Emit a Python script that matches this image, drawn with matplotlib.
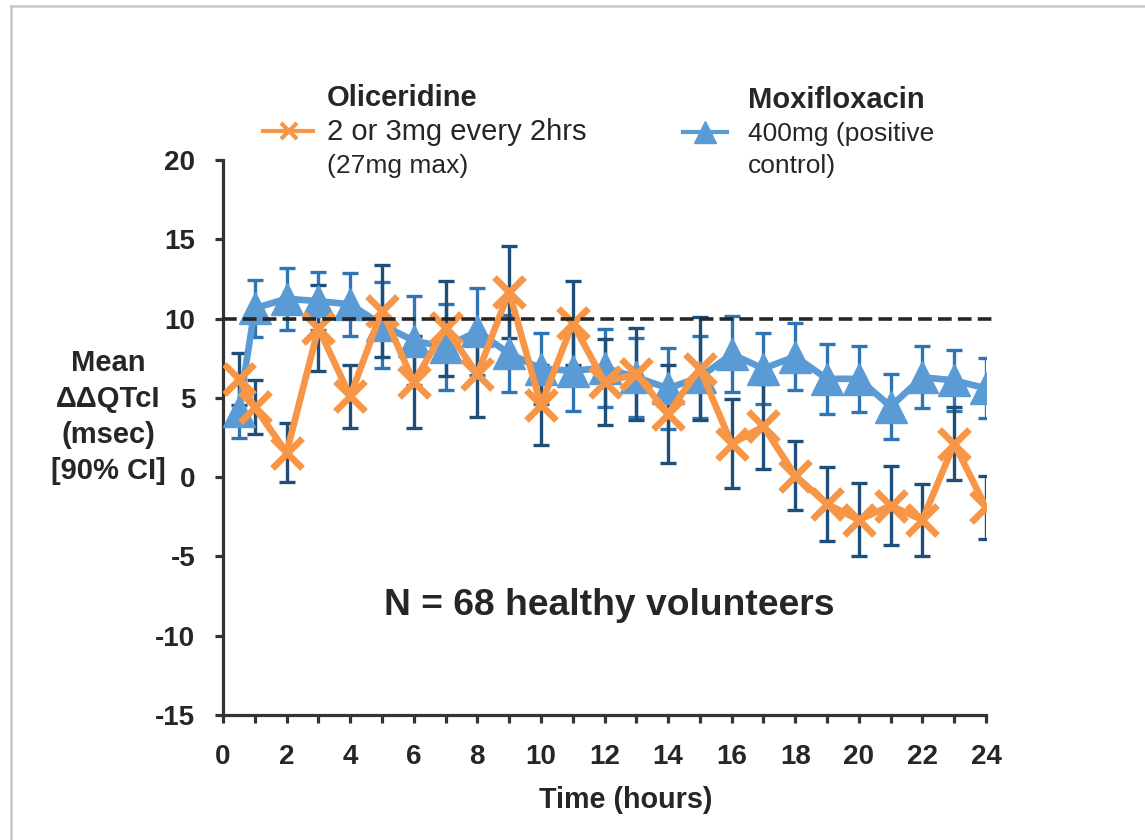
import matplotlib
matplotlib.use('Agg')
import matplotlib.pyplot as plt
from matplotlib.lines import Line2D

plt.rcParams['font.family'] = ['Liberation Sans', 'DejaVu Sans']
plt.rcParams['axes.unicode_minus'] = False

# hours after first dose
hours = [0.5, 1, 2, 3, 4, 5, 6, 7, 8, 9, 10, 11, 12, 13, 14, 15, 16, 17, 18, 19, 20, 21, 22, 23, 24]

# oliceridine: mean ddQTcI and half width of 90% CI (msec)
oli_mean = [6.2, 4.4, 1.55, 9.4, 5.1, 10.5, 6.0, 9.4, 6.5, 11.7, 4.55, 9.7, 6.0,
            6.5, 4.0, 6.85, 2.1, 3.2, 0.1, -1.7, -2.7, -1.8, -2.7, 2.1, -1.9]
oli_ci = [1.65, 1.7, 1.85, 2.7, 2.0, 2.9, 2.9, 3.0, 2.7, 2.9, 2.55, 2.65, 2.7,
          2.9, 3.1, 3.25, 2.8, 2.7, 2.2, 2.35, 2.3, 2.5, 2.25, 2.3, 2.0]

# moxifloxacin (positive control)
moxi_mean = [4.2, 10.65, 11.25, 11.1, 10.9, 9.6, 8.6, 8.2, 9.2, 7.8, 6.85, 6.7, 6.9,
             6.3, 5.6, 6.3, 7.75, 6.85, 7.6, 6.2, 6.2, 4.45, 6.3, 6.1, 5.6]
moxi_ci = [1.7, 1.8, 1.95, 1.85, 2.0, 2.7, 2.8, 2.7, 2.75, 2.4, 2.25, 2.5, 2.45,
           2.5, 2.55, 2.6, 2.4, 2.25, 2.1, 2.2, 2.1, 2.05, 1.95, 1.9, 1.9]

threshold = 10
x_ticks = list(range(0, 25, 2))
y_ticks = list(range(-15, 21, 5))

ORANGE = '#F79646'
BLUE = '#5B9BD5'
OLI_ERR = '#1F4E79'
MOXI_ERR = '#2E75B6'
TXT = '#262626'
W, H = 1145, 840


def fx(px):
    return px / W


def fy(py):
    return 1 - py / H


fig = plt.figure(figsize=(W / 100, H / 100), dpi=100)
ax = fig.add_axes([fx(223), fy(715), fx(986) - fx(223), fy(160) - fy(715)])

# error bars sit under both series
ax.errorbar(hours, moxi_mean, yerr=moxi_ci, fmt='none', ecolor=MOXI_ERR,
            elinewidth=2.4, capsize=5.5, capthick=2.4, zorder=2)
ax.errorbar(hours, oli_mean, yerr=oli_ci, fmt='none', ecolor=OLI_ERR,
            elinewidth=2.4, capsize=5.5, capthick=2.4, zorder=2)

ax.plot(hours, moxi_mean, color=BLUE, lw=4.8, marker='^', markersize=23,
        markerfacecolor=BLUE, markeredgecolor=BLUE, markeredgewidth=1, zorder=3)
ax.plot(hours, oli_mean, color=ORANGE, lw=4.8, marker='x', markersize=21,
        markeredgewidth=4.8, zorder=4)

ax.hlines(threshold, 0, 24.3, colors=TXT, lw=2.6, linestyles=(0, (3.8, 1.7)),
          clip_on=False, zorder=5)

ax.set_xlim(0, 24)
ax.set_ylim(-15, 20)
ax.set_xticks(x_ticks)
ax.set_xticks(range(1, 24, 2), minor=True)
ax.set_yticks(y_ticks)
for s in ['top', 'right']:
    ax.spines[s].set_visible(False)
for s in ['left', 'bottom']:
    ax.spines[s].set_linewidth(2.3)
    ax.spines[s].set_color('#333333')
ax.tick_params(axis='both', which='both', direction='out', length=6, width=2.3,
               color='#333333', labelsize=20, labelcolor=TXT)
ax.tick_params(axis='x', which='major', pad=15)
ax.tick_params(axis='y', pad=14)
for lab in ax.get_xticklabels() + ax.get_yticklabels():
    lab.set_fontweight('bold')

ax.text(0.506, 0.197, 'N = 68 healthy volunteers', transform=ax.transAxes,
        ha='center', va='center', fontsize=26.8, fontweight='bold', color=TXT)

# axis titles
fig.text(fx(108), fy(417), 'Mean\nΔΔQTcI\n(msec)\n[90% CI]', ha='center', va='center',
         fontsize=21, fontweight='bold', color=TXT, linespacing=1.37)
fig.text(fx(626), fy(800), 'Time (hours)', ha='center', va='center',
         fontsize=20.7, fontweight='bold', color=TXT)

# legend, laid out by hand
fig.add_artist(Line2D([fx(263), fx(313)], [fy(131), fy(131)], color=ORANGE, lw=3))
fig.add_artist(Line2D([fx(289)], [fy(131)], color=ORANGE, marker='x', markersize=12,
                      markeredgewidth=3, lw=0))
fig.add_artist(Line2D([fx(683), fx(727)], [fy(132), fy(132)], color=BLUE, lw=3))
fig.add_artist(Line2D([fx(705)], [fy(132)], color=BLUE, marker='^', markersize=16, lw=0))

fig.text(fx(327), fy(105.5), 'Oliceridine', fontsize=21, fontweight='bold', color=TXT, va='baseline')
fig.text(fx(327), fy(140), '2 or 3mg every 2hrs', fontsize=21, color=TXT, va='baseline')
fig.text(fx(327), fy(173), '(27mg max)', fontsize=19, color=TXT, va='baseline')
fig.text(fx(748), fy(108), 'Moxifloxacin', fontsize=21, fontweight='bold', color=TXT, va='baseline')
fig.text(fx(748), fy(141.5), '400mg (positive', fontsize=19, color=TXT, va='baseline')
fig.text(fx(748), fy(173), 'control)', fontsize=19, color=TXT, va='baseline')

# light grey frame (top and left edges visible in the source)
fig.add_artist(Line2D([fx(11), fx(11)], [0, fy(5.5)], color='#c8c8c8', lw=1.8))
fig.add_artist(Line2D([fx(11), 1], [fy(5.5), fy(5.5)], color='#c8c8c8', lw=1.8))

fig.savefig('out.png', dpi=100)
